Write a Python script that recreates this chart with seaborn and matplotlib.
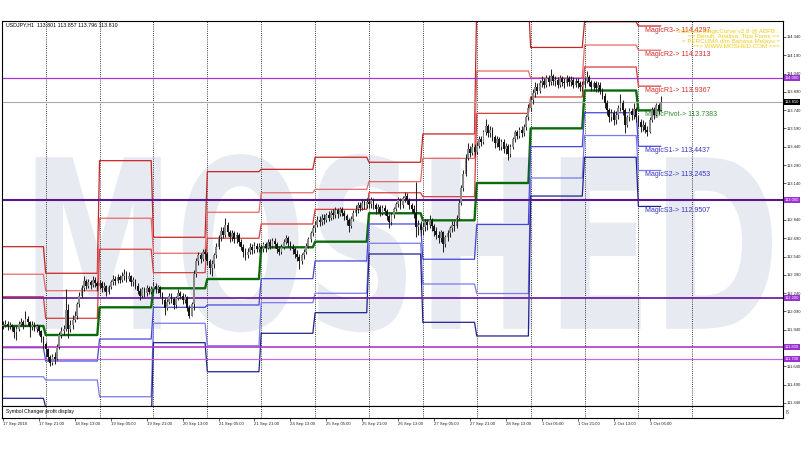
import numpy as np
import pandas as pd
import seaborn as sns
import matplotlib.pyplot as plt
import matplotlib.transforms as mtransforms
from matplotlib.textpath import TextPath
from matplotlib.font_manager import FontProperties
from matplotlib.patches import PathPatch

# USDJPY H1 bars, 17 Sep 05:00 -> 3 Oct 10:00 (one row per trading day)
closes = [
    111.98, 111.99, 111.97, 111.98, 111.96, 111.92, 111.95, 111.99, 112.00, 111.98, 112.03, 112.00, 111.96, 111.98, 111.95, 111.97, 111.93, 111.88, 111.82,
    111.78, 111.72, 111.67, 111.72, 111.70, 111.80, 111.90, 111.93, 111.95, 112.10, 111.95, 111.98, 112.02, 112.05, 112.15, 112.22, 112.28, 112.34, 112.30, 112.33, 112.31, 112.35, 112.32, 112.30,
    112.32, 112.28, 112.30, 112.25, 112.29, 112.33, 112.36, 112.34, 112.37, 112.35, 112.38, 112.40, 112.36, 112.38, 112.33, 112.35, 112.30, 112.26, 112.22, 112.27, 112.24, 112.28, 112.25, 112.27,
    112.30, 112.27, 112.29, 112.24, 112.18, 112.12, 112.17, 112.22, 112.19, 112.14, 112.20, 112.24, 112.22, 112.18, 112.21, 112.12, 112.05, 112.15, 112.40, 112.50, 112.55, 112.52, 112.58, 112.56,
    112.50, 112.45, 112.48, 112.55, 112.62, 112.70, 112.75, 112.72, 112.80, 112.74, 112.70, 112.73, 112.68, 112.72, 112.66, 112.62, 112.58, 112.55, 112.58, 112.62, 112.59, 112.63, 112.60, 112.62,
    112.60, 112.64, 112.61, 112.66, 112.63, 112.67, 112.64, 112.60, 112.58, 112.62, 112.66, 112.69, 112.65, 112.62, 112.60, 112.56, 112.54, 112.50, 112.55, 112.58, 112.63, 112.68, 112.73, 112.77,
    112.80, 112.84, 112.82, 112.86, 112.84, 112.88, 112.86, 112.90, 112.88, 112.92, 112.89, 112.93, 112.90, 112.87, 112.84, 112.79, 112.85, 112.90, 112.93, 112.96, 112.94, 112.98, 112.96, 112.99,
    112.97, 113.00, 112.96, 112.93, 112.95, 112.90, 112.94, 112.91, 112.87, 112.82, 112.88, 112.93, 112.97, 113.00, 112.96, 113.02, 113.04, 113.00, 112.96, 112.93, 112.90, 112.78, 112.80, 112.76,
    112.78, 112.82, 112.80, 112.84, 112.79, 112.75, 112.72, 112.69, 112.74, 112.64, 112.70, 112.73, 112.77, 112.80, 112.79, 112.86, 112.98, 113.10, 113.22, 113.35, 113.42, 113.39, 113.44, 113.40,
    113.45, 113.50, 113.48, 113.56, 113.61, 113.55, 113.58, 113.52, 113.47, 113.50, 113.44, 113.48, 113.42, 113.45, 113.38, 113.44, 113.50, 113.56, 113.53, 113.58, 113.55, 113.60, 113.68, 113.76,
    113.82, 113.88, 113.93, 113.90, 113.96, 113.98, 113.95, 114.00, 113.97, 114.02, 113.98, 113.99, 113.95, 114.00, 113.97, 113.96, 114.00, 113.97, 113.99, 113.95, 113.98, 113.96, 113.93, 113.95,
    113.98, 114.01, 113.97, 113.93, 113.96, 113.92, 113.95, 113.90, 113.86, 113.80, 113.74, 113.68, 113.72, 113.66, 113.70, 113.76, 113.80, 113.74, 113.62, 113.68, 113.73, 113.70, 113.75, 113.68,
    113.64, 113.60, 113.62, 113.58, 113.56, 113.66, 113.74, 113.70, 113.78, 113.74, 113.81,
]
highs = [
    112.01, 112.02, 112.01, 112.00, 111.99, 111.97, 111.97, 112.01, 112.04, 112.02, 112.09, 112.05, 112.01, 112.01, 112.00, 111.99, 111.98, 111.94, 111.89,
    111.84, 111.79, 111.73, 111.74, 111.76, 111.82, 111.92, 111.96, 111.98, 112.27, 112.15, 112.02, 112.06, 112.09, 112.17, 112.25, 112.31, 112.38, 112.36, 112.36, 112.35, 112.38, 112.37, 112.34,
    112.35, 112.34, 112.33, 112.31, 112.31, 112.35, 112.39, 112.38, 112.40, 112.39, 112.41, 112.44, 112.42, 112.41, 112.39, 112.37, 112.36, 112.32, 112.28, 112.29, 112.29, 112.31, 112.30, 112.30,
    112.33, 112.32, 112.31, 112.30, 112.25, 112.20, 112.19, 112.24, 112.24, 112.21, 112.22, 112.27, 112.26, 112.24, 112.23, 112.22, 112.14, 112.17, 112.43, 112.53, 112.58, 112.57, 112.60, 112.60,
    112.58, 112.52, 112.51, 112.57, 112.65, 112.72, 112.78, 112.78, 112.86, 112.82, 112.76, 112.76, 112.75, 112.74, 112.73, 112.68, 112.64, 112.61, 112.61, 112.65, 112.64, 112.66, 112.65, 112.65,
    112.64, 112.66, 112.66, 112.68, 112.68, 112.69, 112.69, 112.66, 112.63, 112.64, 112.68, 112.72, 112.71, 112.67, 112.64, 112.62, 112.59, 112.56, 112.57, 112.60, 112.65, 112.70, 112.75, 112.80,
    112.83, 112.87, 112.87, 112.89, 112.89, 112.90, 112.91, 112.92, 112.93, 112.95, 112.94, 112.95, 112.95, 112.92, 112.89, 112.86, 112.87, 112.92, 112.96, 112.99, 112.99, 113.01, 113.00, 113.02,
    113.01, 113.03, 113.02, 112.98, 112.97, 112.96, 112.96, 112.96, 112.93, 112.89, 112.90, 112.95, 112.99, 113.03, 113.02, 113.04, 113.07, 113.06, 113.02, 112.98, 112.96, 113.15, 112.84, 112.83,
    112.82, 112.85, 112.85, 112.88, 112.86, 112.81, 112.78, 112.75, 112.76, 112.75, 112.72, 112.76, 112.79, 112.83, 112.83, 112.88, 113.01, 113.13, 113.25, 113.38, 113.47, 113.45, 113.47, 113.46,
    113.48, 113.53, 113.53, 113.58, 113.67, 113.63, 113.61, 113.60, 113.54, 113.53, 113.52, 113.50, 113.50, 113.47, 113.46, 113.46, 113.52, 113.58, 113.58, 113.60, 113.61, 113.63, 113.70, 113.79,
    113.86, 113.91, 113.97, 113.96, 113.99, 114.02, 114.00, 114.03, 114.03, 114.08, 114.04, 114.02, 114.01, 114.03, 114.02, 114.00, 114.03, 114.02, 114.02, 114.01, 114.00, 114.00, 113.98, 113.98,
    114.01, 114.06, 114.03, 113.99, 113.98, 113.98, 113.97, 113.97, 113.92, 113.88, 113.82, 113.76, 113.75, 113.74, 113.73, 113.78, 113.87, 113.82, 113.76, 113.70, 113.76, 113.76, 113.80, 113.77,
    113.70, 113.67, 113.66, 113.64, 113.61, 113.68, 113.77, 113.77, 113.80, 113.80, 113.86,
]
lows = [
    111.95, 111.96, 111.94, 111.95, 111.93, 111.87, 111.86, 111.93, 111.97, 111.95, 111.97, 111.98, 111.88, 111.94, 111.93, 111.92, 111.90, 111.84, 111.78,
    111.72, 111.68, 111.64, 111.65, 111.66, 111.69, 111.78, 111.87, 111.90, 111.93, 111.87, 111.92, 111.95, 112.00, 112.03, 112.13, 112.20, 112.26, 112.27, 112.28, 112.27, 112.29, 112.29, 112.26,
    112.27, 112.25, 112.26, 112.22, 112.23, 112.27, 112.31, 112.31, 112.32, 112.32, 112.33, 112.35, 112.33, 112.34, 112.30, 112.30, 112.27, 112.23, 112.18, 112.20, 112.21, 112.22, 112.23, 112.23,
    112.25, 112.24, 112.24, 112.21, 112.15, 112.06, 112.10, 112.15, 112.16, 112.11, 112.12, 112.18, 112.19, 112.15, 112.16, 112.09, 112.04, 112.05, 112.10, 112.37, 112.47, 112.49, 112.50, 112.52,
    112.47, 112.40, 112.38, 112.45, 112.53, 112.60, 112.67, 112.69, 112.70, 112.71, 112.66, 112.67, 112.65, 112.65, 112.63, 112.59, 112.54, 112.51, 112.53, 112.56, 112.56, 112.57, 112.58, 112.58,
    112.57, 112.58, 112.58, 112.60, 112.60, 112.61, 112.61, 112.57, 112.55, 112.56, 112.60, 112.64, 112.62, 112.59, 112.56, 112.53, 112.50, 112.44, 112.48, 112.52, 112.56, 112.61, 112.66, 112.71,
    112.74, 112.78, 112.79, 112.80, 112.81, 112.82, 112.83, 112.84, 112.85, 112.86, 112.86, 112.87, 112.87, 112.84, 112.80, 112.74, 112.77, 112.83, 112.87, 112.90, 112.91, 112.92, 112.93, 112.94,
    112.94, 112.94, 112.93, 112.89, 112.90, 112.87, 112.88, 112.88, 112.84, 112.77, 112.80, 112.86, 112.91, 112.95, 112.93, 112.94, 112.99, 112.97, 112.93, 112.90, 112.86, 112.70, 112.72, 112.72,
    112.72, 112.75, 112.76, 112.77, 112.75, 112.71, 112.68, 112.65, 112.66, 112.58, 112.62, 112.67, 112.70, 112.74, 112.75, 112.77, 112.84, 112.96, 113.08, 113.20, 113.33, 113.36, 113.37, 113.37,
    113.38, 113.43, 113.45, 113.46, 113.54, 113.52, 113.52, 113.49, 113.43, 113.44, 113.41, 113.41, 113.39, 113.38, 113.33, 113.36, 113.42, 113.48, 113.50, 113.51, 113.52, 113.53, 113.58, 113.66,
    113.73, 113.79, 113.85, 113.87, 113.88, 113.93, 113.92, 113.93, 113.94, 113.95, 113.95, 113.94, 113.92, 113.93, 113.94, 113.92, 113.94, 113.94, 113.94, 113.92, 113.93, 113.92, 113.90, 113.90,
    113.92, 113.96, 113.94, 113.90, 113.90, 113.89, 113.89, 113.87, 113.83, 113.76, 113.70, 113.64, 113.65, 113.62, 113.63, 113.67, 113.73, 113.70, 113.55, 113.60, 113.65, 113.66, 113.67, 113.64,
    113.60, 113.56, 113.57, 113.55, 113.53, 113.55, 113.64, 113.67, 113.69, 113.71, 113.73,
]
first_open = 111.97

# first bar of each trading day (17 Sep ... 3 Oct)
day_starts = [0, 19, 43, 67, 91, 115, 139, 163, 187, 211, 235, 259, 283]
next_day_bar = 307  # 4 Oct 00:00 separator (future)

# Magic pivot levels for each day
r3 = [112.621, 112.403, 113.326, 112.698, 113.236, 113.255, 113.354, 113.313, 113.545, 114.632, 114.254, 114.465, 114.4297]
r2 = [112.395, 112.260, 112.854, 112.567, 112.903, 113.063, 113.091, 113.154, 113.345, 114.061, 114.004, 114.274, 114.2313]
r1 = [112.211, 112.034, 112.600, 112.408, 112.690, 112.807, 112.927, 113.063, 113.031, 113.714, 113.848, 114.094, 113.9367]
pv = [111.971, 111.897, 112.124, 112.280, 112.356, 112.616, 112.662, 112.895, 112.837, 113.143, 113.591, 113.901, 113.7383]
s1 = [111.793, 111.684, 111.864, 112.124, 112.143, 112.359, 112.504, 112.807, 112.518, 112.803, 113.441, 113.719, 113.4437]
s2 = [111.555, 111.528, 111.391, 111.993, 111.809, 112.162, 112.239, 112.649, 112.315, 112.237, 113.184, 113.532, 113.2453]
s3 = [111.378, 111.307, 111.143, 111.834, 111.596, 111.911, 112.080, 112.561, 112.001, 111.889, 113.036, 113.354, 112.9507]

today_names = ["MagicR3", "MagicR2", "MagicR1", "MagicPivot", "MagicS1", "MagicS2", "MagicS3"]

round_levels = [114.000, 113.000, 112.200, 111.800, 111.700]
bid = 113.810
header = "USDJPY,H1  113.801 113.857 113.796 113.810"
promo = ["Indicator MagicCurve v2.8 @ ABFB ::",
         "== Bersih, Analisa, Tips Forex ==",
         "= PERCUMA dlm Bahasa Melayu =",
         "==> WWW.MOSHED.COM <=="]

# price scale labels (the ones hidden under the level boxes left blank)
price_ticks = [111.34, 111.49, 111.64, 111.79, 111.94, 112.09, 112.24, 112.39, 112.54, 112.69, 112.84,
               112.99, 113.14, 113.29, 113.44, 113.59, 113.74, 113.89, 114.04, 114.19, 114.34]
hidden_ticks = [111.79, 112.99]
label_bars = [0, 16, 32, 48, 64, 80, 96, 112, 128, 144, 160, 176, 192, 208, 224, 240, 256, 272, 288]
time_labels = ["17 Sep 2018", "17 Sep 21:00", "18 Sep 13:00", "19 Sep 05:00", "19 Sep 21:00",
               "20 Sep 13:00", "21 Sep 05:00", "21 Sep 21:00", "24 Sep 13:00", "25 Sep 05:00",
               "25 Sep 21:00", "26 Sep 13:00", "27 Sep 05:00", "27 Sep 21:00", "28 Sep 13:00",
               "1 Oct 05:00", "1 Oct 21:00", "2 Oct 13:00", "3 Oct 05:00"]

sns.set_theme(style="white")
plt.rcParams['font.family'] = ['Liberation Sans', 'DejaVu Sans']

n = len(closes)
bars = np.arange(n)
c = np.array(closes)
o = np.array([first_open] + closes[:-1])
h = np.maximum.reduce([np.array(highs), o, c])
l = np.minimum.reduce([np.array(lows), o, c])
day_len = np.diff(day_starts + [n])

fig = plt.figure(figsize=(8.1, 4.5), dpi=100)
ax = fig.add_axes([2 / 810, 44 / 450, 781 / 810, 385.5 / 450])
ax_sub = fig.add_axes([2 / 810, 32 / 450, 781 / 810, 12 / 450])
xlim = (-0.45, 347.4)
ax.set_xlim(*xlim)
ax.set_ylim(111.315, 114.475)
ax_sub.set_xlim(*xlim)
ax_sub.set_ylim(0, 1)

# watermark
tp = TextPath((0, 0), "MOSHED", size=1, prop=FontProperties(family="DejaVu Sans", weight="bold"))
ext = tp.get_extents()
wx0, wx1, wy0, wy1 = 14.5, 342.5, 111.92, 113.38
tr = (mtransforms.Affine2D().translate(-ext.x0, -ext.y0)
      .scale((wx1 - wx0) / ext.width, (wy1 - wy0) / ext.height).translate(wx0, wy0))
ax.add_patch(PathPatch(tr.transform_path(tp), transform=ax.transData,
                       fc='#e7eaf1', ec='none', zorder=0.5))

# period separators
for s in day_starts[1:] + [next_day_bar]:
    for a in (ax, ax_sub):
        a.axvline(s, color='black', lw=0.6, ls=(0, (1, 1.6)), zorder=1)

# pivot level lines
levels = [(r3, '#c82424', 0.9), (r2, '#e86a6a', 0.9), (r1, '#d83c3c', 0.9),
          (pv, '#0b6b0b', 1.7),
          (s1, '#4646d8', 0.9), (s2, '#7a7aee', 0.9), (s3, '#22228c', 0.9)]
for vals, col, lw in levels:
    df = pd.DataFrame({"bar": bars, "level": np.repeat(vals, day_len)})
    sns.lineplot(data=df, x="bar", y="level", ax=ax, color=col, linewidth=lw, zorder=2)

# round number levels
round_cols = ['#a235d8', '#5a1690', '#6c22a6', '#b338c8', '#c46ad8']
round_lw = [0.9, 1.5, 1.3, 1.2, 0.9]
ytr = ax.get_yaxis_transform()
for lv, col, lw in zip(round_levels, round_cols, round_lw):
    ax.axhline(lv, color=col, lw=lw, zorder=2.5)
    ax.annotate(f"{lv:.3f}", xy=(1, lv), xycoords=ytr, xytext=(1.2, 0), textcoords='offset points',
                ha='left', va='center', fontsize=3, color='white', annotation_clip=False,
                bbox=dict(boxstyle='square,pad=0.25', fc='#9a32d2', ec='none'), zorder=10)
ax.axhline(bid, color='#a9a9a9', lw=0.8, zorder=2.4)
ax.annotate(f"{bid:.3f}", xy=(1, bid), xycoords=ytr, xytext=(1.2, 0), textcoords='offset points',
            ha='left', va='center', fontsize=3, color='white', annotation_clip=False,
            bbox=dict(boxstyle='square,pad=0.25', fc='black', ec='none'), zorder=10)

# today's level labels
today_vals = [r3[-1], r2[-1], r1[-1], pv[-1], s1[-1], s2[-1], s3[-1]]
today_cols = ['#d42c2c'] * 3 + ['#2e8b2e'] + ['#3434c0'] * 3
for name, v, col in zip(today_names, today_vals, today_cols):
    ax.text(286, v - 0.008, f"{name}-> {v:.4f}", ha='left', va='top', fontsize=5,
            color=col, zorder=2.8)

# candles
up = c >= o
ax.vlines(bars, l, h, color='#262626', lw=0.75, zorder=3)
ax.bar(bars, np.maximum(np.abs(c - o), 0.006), bottom=np.minimum(o, c), width=0.8,
       color=np.where(up, '#8a8a8a', '#141414'), linewidth=0, zorder=4)

# texts
fig.text(6 / 810, 1 - 25 / 450, header, fontsize=3.8, ha='left', va='center', color='black')
fig.text(780 / 810, 1 - 29.5 / 450, "\n".join(promo), fontsize=4.5, ha='right', va='top',
         linespacing=0.95, color='#f0cc18', zorder=6)
ax_sub.text(0.005, 0.5, "Symbol Changer profit display", transform=ax_sub.transAxes,
            fontsize=3.6, ha='left', va='center', color='black')
ax_sub.text(1.003, 0.5, "8", transform=ax_sub.transAxes, fontsize=3.5, ha='left', va='center')

# axes styling
ax.yaxis.tick_right()
ax.set_yticks(price_ticks)
ax.set_yticklabels(["" if v in hidden_ticks else f"{v:.3f}" for v in price_ticks])
ax.tick_params(axis='y', labelsize=3, length=2, width=0.5, pad=1, colors='#222222', right=True)
ax.set_xticks([])
ax.set_xlabel("")
ax.set_ylabel("")
ax_sub.set_yticks([])
ax_sub.set_xticks(label_bars)
ax_sub.set_xticklabels(time_labels, ha='left')
ax_sub.tick_params(axis='x', labelsize=3.1, length=2, width=0.5, pad=1, colors='#222222', bottom=True)
for a in (ax, ax_sub):
    for sp in a.spines.values():
        sp.set_color('black')
        sp.set_linewidth(0.8)
    a.set_facecolor('white')
fig.patch.set_facecolor('white')

fig.savefig('out.png', dpi=100)
